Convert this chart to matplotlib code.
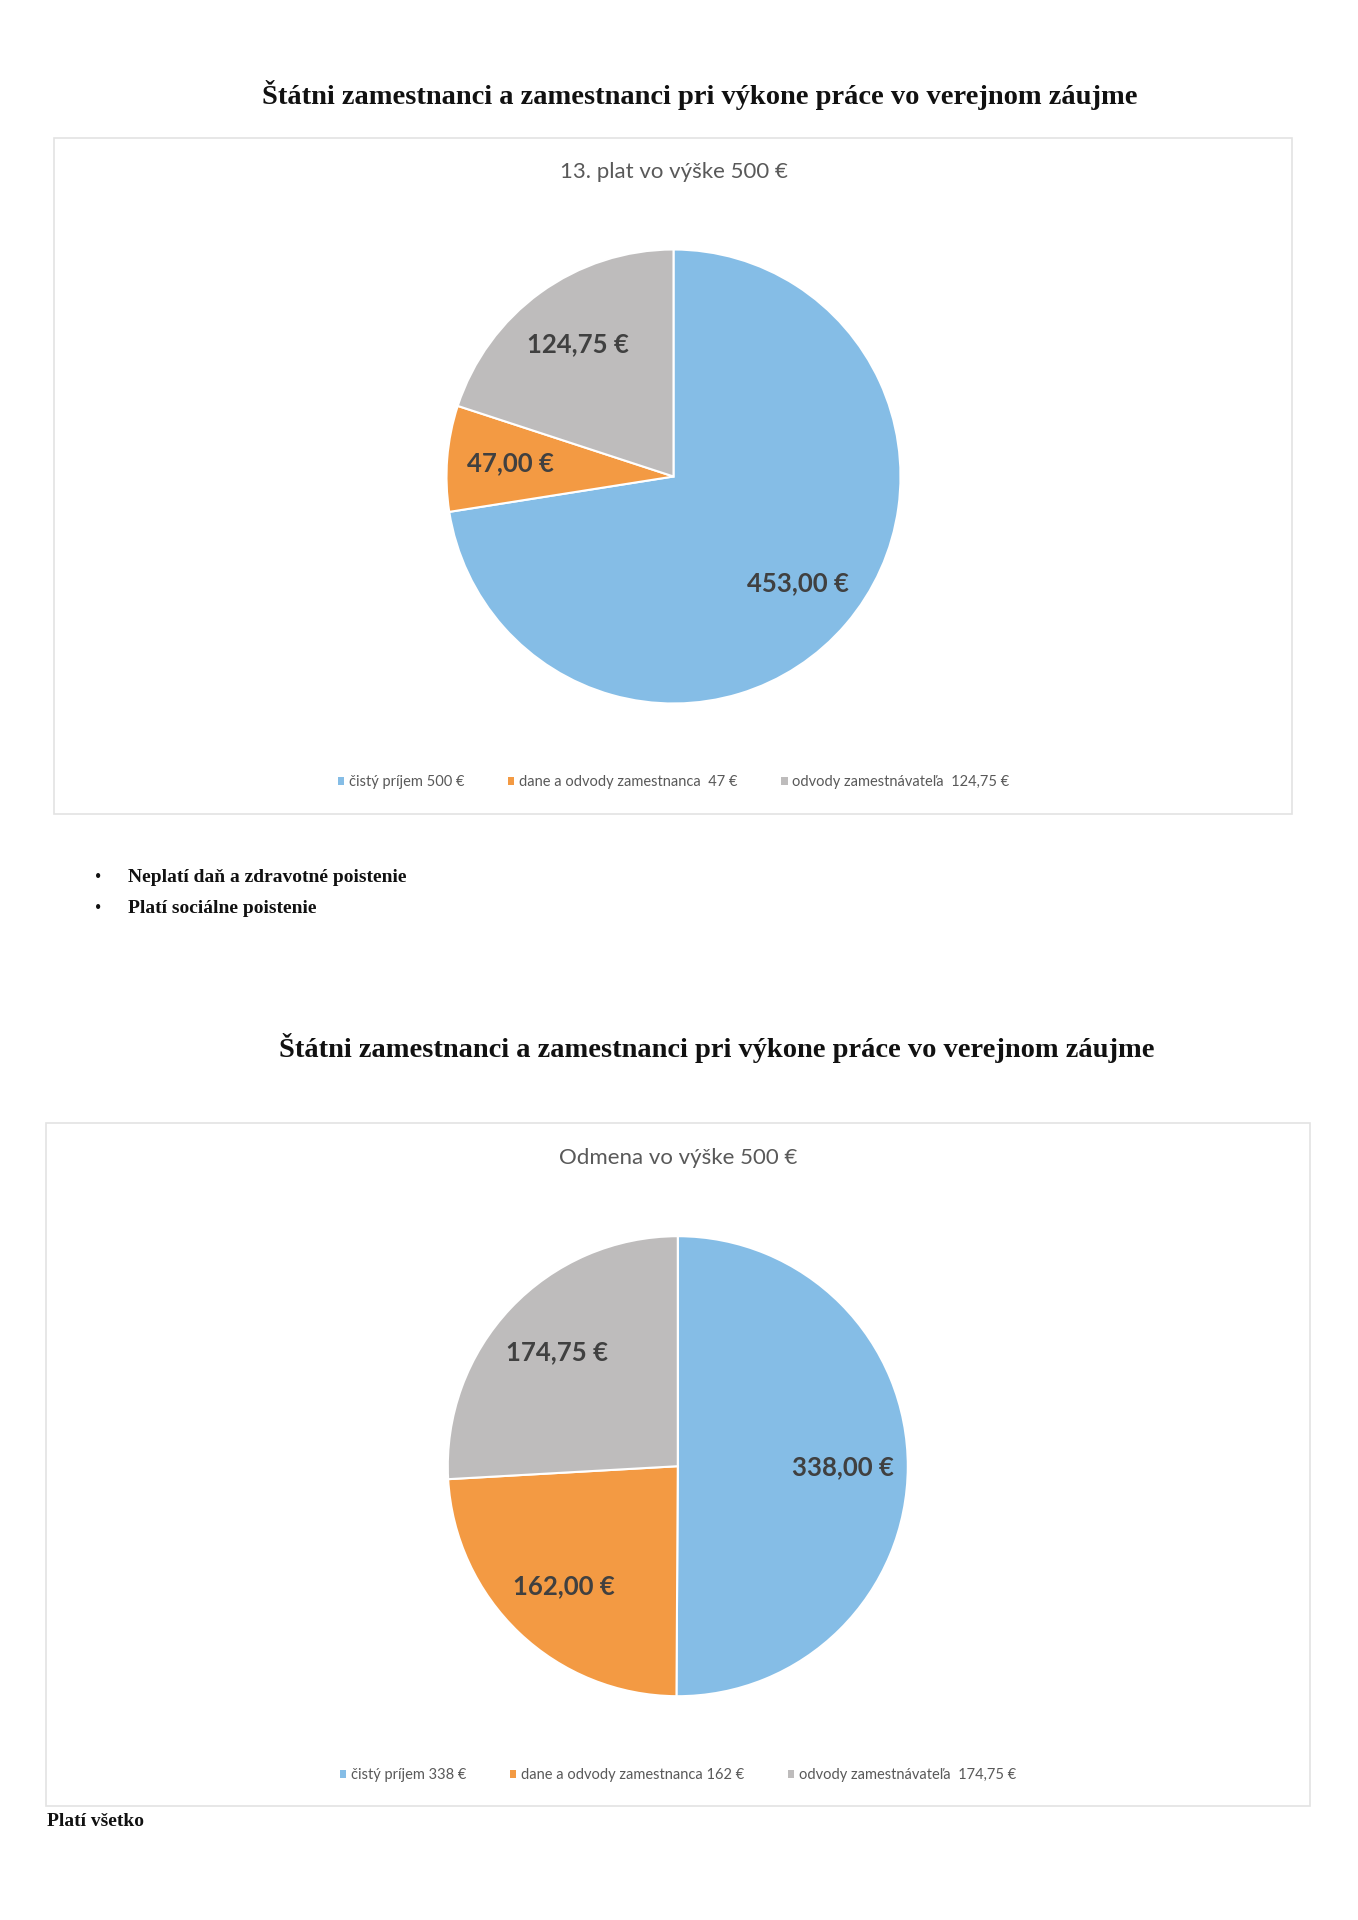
import matplotlib
matplotlib.use("Agg")
import matplotlib.pyplot as plt
import numpy as np
from matplotlib.patches import Patch, Rectangle

W, H = 1358, 1920

# data
page_title = "Štátni zamestnanci a zamestnanci pri výkone práce vo verejnom záujme"
colors = ["#85BDE6", "#F39A43", "#BEBCBC"]

chart1_title = "13. plat vo výške 500 €"
chart1_values = [453.00, 47.00, 124.75]
chart1_legend = ["čistý príjem 500 €", "dane a odvody zamestnanca  47 €", "odvody zamestnávateľa  124,75 €"]

chart2_title = "Odmena vo výške 500 €"
chart2_values = [338.00, 162.00, 174.75]
chart2_legend = ["čistý príjem 338 €", "dane a odvody zamestnanca 162 €", "odvody zamestnávateľa  174,75 €"]

bullets = ["Neplatí daň a zdravotné poistenie", "Platí sociálne poistenie"]
footer = "Platí všetko"


def fx(px):
    return px / W


def fy(py):
    return 1 - py / H


def euro(v):
    return ("%.2f" % v).replace(".", ",") + " €"


fig = plt.figure(figsize=(W / 100, H / 100), dpi=100)
fig.patch.set_facecolor("white")

serif = ["Liberation Serif", "DejaVu Serif"]
sans = ["Lato", "DejaVu Sans"]


def chart_box(x0, y0, x1, y1):
    fig.patches.append(Rectangle((fx(x0), fy(y1)), fx(x1 - x0), (y1 - y0) / H,
                                 transform=fig.transFigure, facecolor="none",
                                 edgecolor="#E3E3E3", linewidth=1.2, zorder=-1))


def draw_pie(cx, cy, r, values, title, legend_labels, title_y, legend_y):
    ax = fig.add_axes([fx(cx - r), fy(cy + r), 2 * r / W, 2 * r / H])
    ax.set_zorder(2)
    wedges, _ = ax.pie(values, colors=colors, startangle=90, counterclock=False,
                       radius=1.0, wedgeprops=dict(edgecolor="white", linewidth=1.5))
    ax.set_xlim(-1, 1)
    ax.set_ylim(-1, 1)
    ax.axis("off")
    for w, v in zip(wedges, values):
        ang = np.deg2rad((w.theta1 + w.theta2) / 2)
        ax.text(0.72 * np.cos(ang), 0.72 * np.sin(ang), euro(v), ha="center", va="center",
                fontsize=18.5, fontweight="bold", color="#404040", family=sans)
    fig.text(fx(cx), fy(title_y), title, ha="center", va="center", fontsize=16,
             color="#595959", family=sans)
    handles = [Patch(facecolor=c, edgecolor="none") for c in colors]
    fig.legend(handles, legend_labels, loc="center", bbox_to_anchor=(fx(cx), fy(legend_y)),
               ncol=3, frameon=False, handlelength=0.45, handleheight=0.45,
               handletextpad=0.3, columnspacing=3.0,
               prop=dict(family=sans, size=10.5), labelcolor="#595959")


# first chart
fig.text(fx(700), fy(95), page_title, ha="center", va="center", fontsize=20.5,
         fontweight="bold", family=serif, color="#111111")
chart_box(54, 138, 1292, 814)
draw_pie(673.5, 476.5, 227, chart1_values, chart1_title, chart1_legend, 172.5, 782)

for i, b in enumerate(bullets):
    y = 877 + i * 31.5
    fig.text(fx(98), fy(y), "•", ha="center", va="center", fontsize=13,
             family=serif, color="#111111")
    fig.text(fx(128.5), fy(y), b, ha="left", va="center", fontsize=14,
             fontweight="bold", family=serif, color="#111111")

# second chart
fig.text(fx(717), fy(1048), page_title, ha="center", va="center", fontsize=20.5,
         fontweight="bold", family=serif, color="#111111")
chart_box(46, 1123, 1310, 1806)
draw_pie(677.8, 1466.2, 230, chart2_values, chart2_title, chart2_legend, 1158.5, 1775)

fig.text(fx(47), fy(1822), footer, ha="left", va="center", fontsize=14,
         fontweight="bold", family=serif, color="#111111")

plt.savefig("out.png", dpi=100, facecolor="white")
